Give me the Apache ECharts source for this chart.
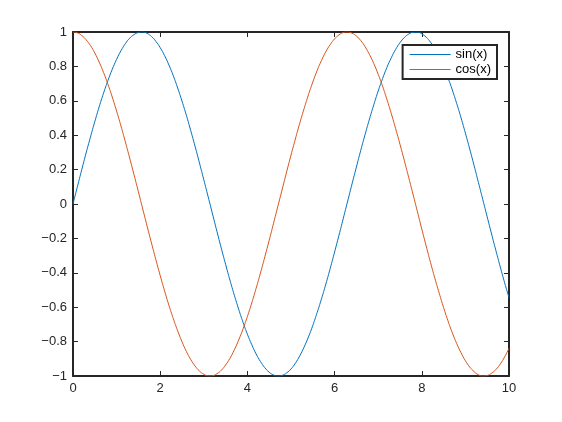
<!DOCTYPE html>
<html>
<head>
<meta charset="utf-8">
<script src="https://cdn.jsdelivr.net/npm/echarts@6/dist/echarts.min.js"></script>
<style>html,body{margin:0;padding:0;background:#fff;}#c{width:562px;height:422px;}</style>
</head>
<body>
<div id="c"></div>
<script>
var xValues = [0,0.1,0.2,0.3,0.4,0.5,0.6,0.7,0.8,0.9,1,1.1,1.2,1.3,1.4,1.5,1.6,1.7,1.8,1.9,2,2.1,2.2,2.3,2.4,2.5,2.6,2.7,2.8,2.9,3,3.1,3.2,3.3,3.4,3.5,3.6,3.7,3.8,3.9,4,4.1,4.2,4.3,4.4,4.5,4.6,4.7,4.8,4.9,5,5.1,5.2,5.3,5.4,5.5,5.6,5.7,5.8,5.9,6,6.1,6.2,6.3,6.4,6.5,6.6,6.7,6.8,6.9,7,7.1,7.2,7.3,7.4,7.5,7.6,7.7,7.8,7.9,8,8.1,8.2,8.3,8.4,8.5,8.6,8.7,8.8,8.9,9,9.1,9.2,9.3,9.4,9.5,9.6,9.7,9.8,9.9,10];
var sinValues = [0.000,0.100,0.199,0.296,0.389,0.479,0.565,0.644,0.717,0.783,0.841,0.891,0.932,0.964,0.985,0.997,1.000,0.992,0.974,0.946,0.909,0.863,0.808,0.746,0.675,0.598,0.516,0.427,0.335,0.239,0.141,0.042,-0.058,-0.158,-0.256,-0.351,-0.443,-0.530,-0.612,-0.688,-0.757,-0.818,-0.872,-0.916,-0.952,-0.978,-0.994,-1.000,-0.996,-0.982,-0.959,-0.926,-0.883,-0.832,-0.773,-0.706,-0.631,-0.551,-0.465,-0.374,-0.279,-0.182,-0.083,0.017,0.117,0.215,0.312,0.405,0.494,0.578,0.657,0.729,0.794,0.850,0.899,0.938,0.968,0.988,0.998,0.999,0.989,0.970,0.941,0.904,0.855,0.798,0.734,0.663,0.585,0.501,0.412,0.319,0.223,0.124,0.025,-0.075,-0.174,-0.271,-0.366,-0.458,-0.544];
var cosValues = [1.000,0.995,0.980,0.955,0.921,0.878,0.825,0.765,0.697,0.622,0.540,0.454,0.362,0.267,0.170,0.071,-0.029,-0.129,-0.227,-0.323,-0.416,-0.505,-0.589,-0.666,-0.737,-0.801,-0.857,-0.904,-0.942,-0.971,-0.990,-0.999,-0.998,-0.987,-0.967,-0.936,-0.897,-0.848,-0.791,-0.726,-0.654,-0.575,-0.490,-0.401,-0.307,-0.211,-0.112,-0.012,0.087,0.187,0.284,0.378,0.469,0.554,0.635,0.709,0.776,0.835,0.886,0.927,0.960,0.983,0.997,1.000,0.993,0.977,0.950,0.914,0.869,0.816,0.754,0.685,0.608,0.526,0.438,0.347,0.252,0.154,0.055,-0.045,-0.146,-0.244,-0.340,-0.432,-0.519,-0.602,-0.679,-0.749,-0.811,-0.865,-0.911,-0.948,-0.975,-0.993,-1.000,-0.997,-0.984,-0.962,-0.930,-0.889,-0.839];
var seriesNames = ['sin(x)', 'cos(x)'];
var xTicks = [0, 2, 4, 6, 8, 10];
var yTicks = [-1, -0.8, -0.6, -0.4, -0.2, 0, 0.2, 0.4, 0.6, 0.8, 1];

function pairs(xs, ys) { return xs.map(function (x, i) { return [x, ys[i]]; }); }
function fmt(v) { var s = String(Math.round(v * 10) / 10); return s.replace('-', '\u2212'); }

var axisColor = '#262626';
var font = 'Liberation Sans';
var chart = echarts.init(document.getElementById('c'), null, { renderer: 'canvas' });
function xAx(pos, labels) {
  return {
    type: 'value', position: pos, min: xTicks[0], max: xTicks[xTicks.length - 1], interval: xTicks[1] - xTicks[0],
    axisLine: { show: true, onZero: false, lineStyle: { color: axisColor, width: 2 } },
    axisTick: { show: true, inside: true, length: 5, lineStyle: { color: axisColor, width: 1 } },
    axisLabel: { show: labels, color: axisColor, fontFamily: font, fontSize: 13, margin: 6, formatter: fmt },
    splitLine: { show: false }
  };
}
function yAx(pos, labels) {
  return {
    type: 'value', position: pos, min: yTicks[0], max: yTicks[yTicks.length - 1], interval: 0.2,
    axisLine: { show: true, onZero: false, lineStyle: { color: axisColor, width: 2 } },
    axisTick: { show: true, inside: true, length: 5, lineStyle: { color: axisColor, width: 1 } },
    axisLabel: { show: labels, color: axisColor, fontFamily: font, fontSize: 13, margin: 6, formatter: fmt },
    splitLine: { show: false }
  };
}
chart.setOption({
  animation: false,
  backgroundColor: '#ffffff',
  grid: { left: 73, top: 32, width: 436, height: 344, containLabel: false },
  xAxis: [xAx('bottom', true), xAx('top', false)],
  yAxis: [yAx('left', true), yAx('right', false)],
  legend: {
    orient: 'vertical', right: 65, top: 45,
    padding: [2, 6, 2, 7], itemGap: 0, itemWidth: 41, itemHeight: 1, icon: 'rect',
    borderColor: axisColor, borderWidth: 2, backgroundColor: '#ffffff',
    textStyle: { color: '#000', fontFamily: font, fontSize: 13, lineHeight: 15 },
    data: seriesNames
  },
  series: [
    { name: seriesNames[0], type: 'line', data: pairs(xValues, sinValues), smooth: true, symbol: 'none', lineStyle: { color: '#0072BD', width: 1 }, itemStyle: { color: '#0072BD' } },
    { name: seriesNames[1], type: 'line', data: pairs(xValues, cosValues), smooth: true, symbol: 'none', lineStyle: { color: '#D95319', width: 1 }, itemStyle: { color: '#D95319' } }
  ]
});
</script>
</body>
</html>
